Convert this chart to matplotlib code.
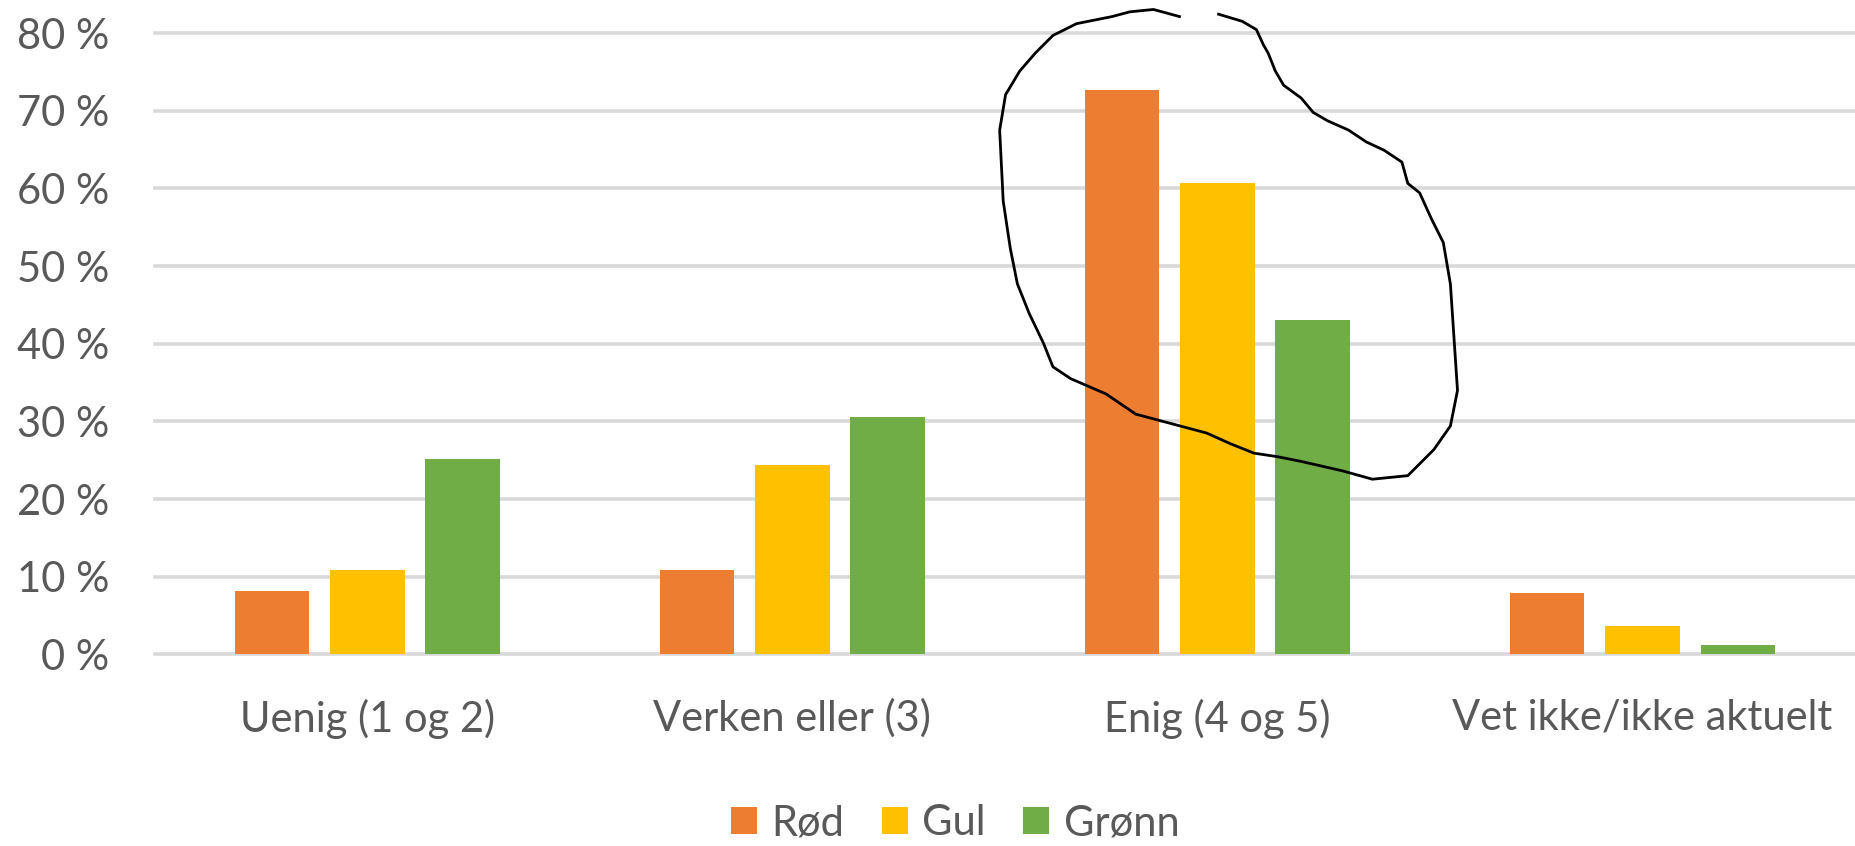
import matplotlib
matplotlib.use("Agg")
import matplotlib.pyplot as plt
import numpy as np
from matplotlib.patches import Patch

categories = ["Uenig (1 og 2)", "Verken eller (3)", "Enig (4 og 5)", "Vet ikke/ikke aktuelt"]
series_names = ["Rød", "Gul", "Grønn"]
rod = [8.2, 10.8, 72.7, 7.9]
gul = [10.8, 24.4, 60.7, 3.7]
gronn = [25.2, 30.5, 43.1, 1.2]
colors = ["#ED7D31", "#FFC000", "#70AD47"]
yticks = [0, 10, 20, 30, 40, 50, 60, 70, 80]
ytick_labels = [f"{v} %" for v in yticks]

# freehand annotation loop (figure pixel coords of a 1568x715 view)
loop_px = [(1030, 12), (1050, 18), (1062, 25), (1068, 38), (1072, 45), (1078, 60), (1085, 72),
           (1100, 83), (1110, 95), (1122, 102), (1140, 110), (1155, 120), (1170, 127), (1185, 137),
           (1190, 155), (1200, 163), (1210, 185), (1220, 205), (1226, 240), (1232, 330), (1226, 360),
           (1212, 380), (1202, 390), (1190, 402), (1160, 405), (1135, 398), (1100, 390), (1080, 386),
           (1060, 383), (1040, 375), (1020, 366), (990, 358), (960, 350), (935, 333), (905, 320),
           (890, 310), (882, 290), (870, 265), (860, 240), (854, 210), (848, 170), (845, 110),
           (850, 80), (862, 60), (875, 45), (890, 30), (910, 20), (940, 14), (955, 10), (975, 8),
           (997, 14)]

plt.rcParams['font.family'] = ['Lato', 'DejaVu Sans']
text_color = "#595959"
fs = 30

fig = plt.figure(figsize=(18.55, 8.46), dpi=100)
ax = fig.add_axes([0.0835, 0.2266, 0.9165, 0.7342])

x = np.arange(len(categories))
step = 0.224
width = 0.175
for i, (vals, c) in enumerate(zip([rod, gul, gronn], colors)):
    ax.bar(x + (i - 1) * step, vals, width=width, color=c, zorder=3, label=series_names[i])

ax.set_xlim(-0.5, 3.5)
ax.set_ylim(0, 80)
ax.set_yticks(yticks)
ax.set_yticklabels(ytick_labels)
ax.set_xticks(x)
ax.set_xticklabels(categories)
ax.grid(axis='y', color="#d9d9d9", linewidth=2.6, zorder=0)
for line in ax.get_ygridlines():
    line.set_clip_on(False)
for s in ax.spines.values():
    s.set_visible(False)
ax.tick_params(axis='y', length=0, pad=33, labelsize=fs, labelcolor=text_color)
ax.tick_params(axis='x', length=0, pad=32, labelsize=fs, labelcolor=text_color)

handles = [Patch(facecolor=c, label=n) for c, n in zip(colors, series_names)]
fig.legend(handles=handles, loc='center', bbox_to_anchor=(0.515, 0.027), ncol=3, frameon=False,
           fontsize=fs, labelcolor=text_color, handlelength=0.62, handleheight=0.62,
           handletextpad=0.35, columnspacing=0.9, borderpad=0)

lx = [p[0] / 1568 for p in loop_px]
ly = [1 - p[1] / 715 for p in loop_px]
fig.add_artist(plt.Line2D(lx, ly, transform=fig.transFigure, color="black", linewidth=2.0))

fig.savefig("out.png", dpi=100)
